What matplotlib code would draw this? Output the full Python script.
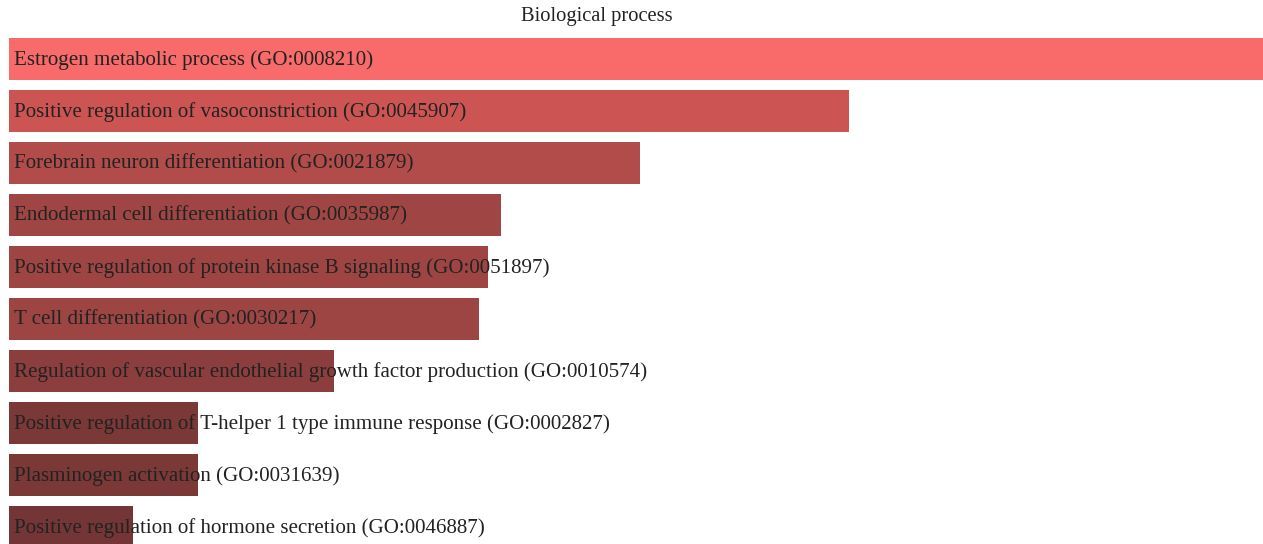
import matplotlib.pyplot as plt
import numpy as np
from matplotlib.colors import LinearSegmentedColormap

# GO biological process terms, top to bottom
terms = [
    "Estrogen metabolic process (GO:0008210)",
    "Positive regulation of vasoconstriction (GO:0045907)",
    "Forebrain neuron differentiation (GO:0021879)",
    "Endodermal cell differentiation (GO:0035987)",
    "Positive regulation of protein kinase B signaling (GO:0051897)",
    "T cell differentiation (GO:0030217)",
    "Regulation of vascular endothelial growth factor production (GO:0010574)",
    "Positive regulation of T-helper 1 type immune response (GO:0002827)",
    "Plasminogen activation (GO:0031639)",
    "Positive regulation of hormone secretion (GO:0046887)",
]
# bar lengths (relative score)
scores = [125.4, 84.0, 63.1, 49.2, 47.9, 47.0, 32.5, 18.9, 18.9, 12.4]

W, H = 1263, 544
fig = plt.figure(figsize=(W / 100, H / 100), dpi=100)

# axes placed in pixel terms: left edge 9px, top 33px, runs off bottom/right
ax = fig.add_axes([9 / W, 0, 1 - 9 / W, 1 - 33 / H])

# colour follows the score, dark brown-red (low) to salmon (high)
cmap = LinearSegmentedColormap.from_list(
    "go", [(0.0, "#733535"), (0.33, "#A04644"), (0.64, "#CD5553"), (1.0, "#F96B6B")]
)
vals = np.array(scores)
norm = (vals - vals.min()) / (vals.max() - vals.min())
colors = cmap(norm)

y = np.arange(len(terms))
ax.barh(y, scores, height=42 / 52, color=colors, edgecolor="none")
ax.set_xlim(0, 125.4)
ax.set_ylim((H - 59) / 52, -0.5)

for yi, label in zip(y, terms):
    ax.text(0.55, yi + 0.02, label, va="center", ha="left", fontsize=15.1,
            family="Liberation Serif", color="#222222")

ax.axis("off")

fig.text(597 / W, 1 - 17 / H, "Biological process", ha="center", va="center",
         fontsize=14.8, family="Liberation Serif", color="#222222")

fig.savefig("out.png", dpi=100)
